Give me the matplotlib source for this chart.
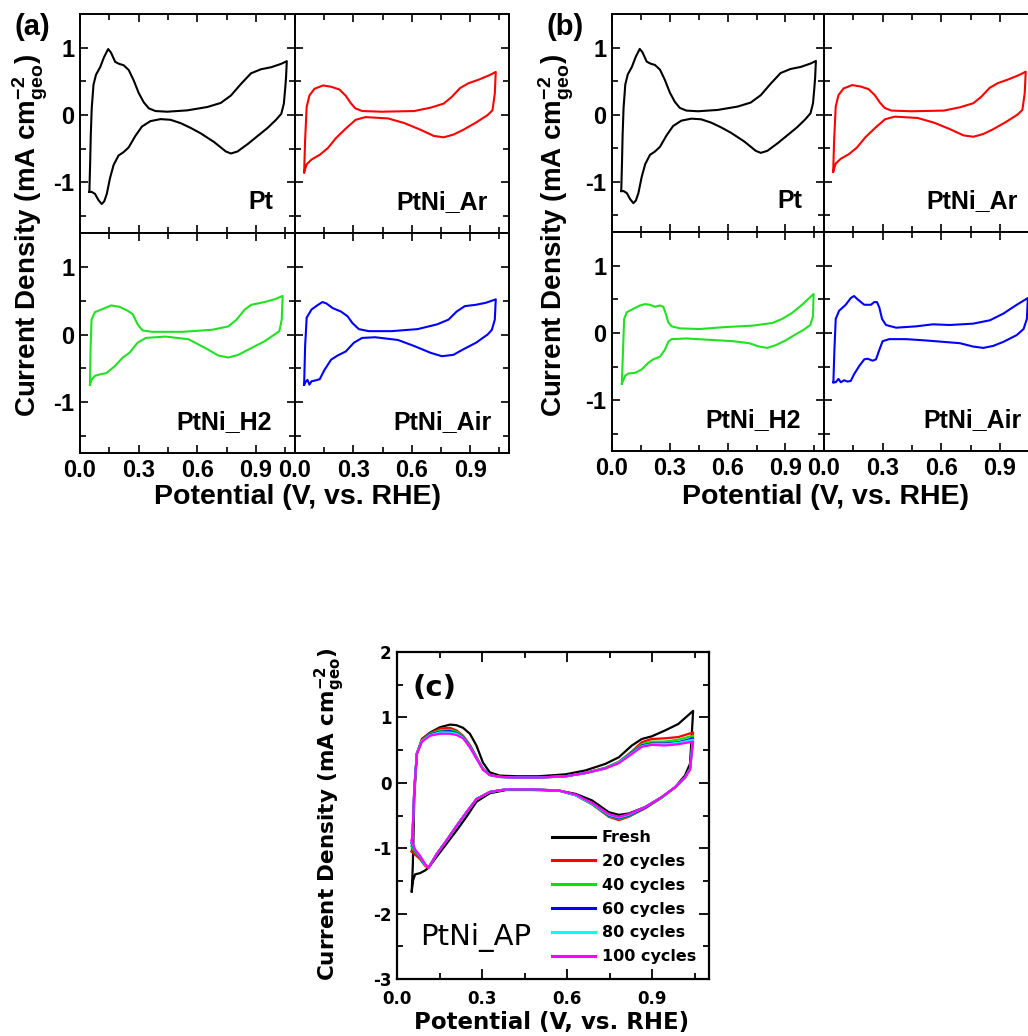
import matplotlib
matplotlib.use("Agg")
import matplotlib.pyplot as plt
from matplotlib.ticker import FixedLocator

plt.rcParams['mathtext.default'] = 'regular'

W, H = 1028, 1036

# ---------------- data (potential V vs RHE, current density mA cm-2) -------------
pt_v = [0.048, 0.052, 0.055, 0.060, 0.069, 0.082, 0.103, 0.123, 0.144, 0.158, 0.180, 0.200, 0.223,
        0.249, 0.274, 0.300, 0.326, 0.352, 0.386, 0.446, 0.549, 0.652, 0.720, 0.772, 0.823, 0.875,
        0.926, 0.978, 1.029, 1.058,
        1.054, 1.050, 1.043, 1.030, 1.003, 0.960, 0.909, 0.858, 0.806, 0.772, 0.746, 0.686, 0.617,
        0.566, 0.515, 0.463, 0.412, 0.360, 0.317, 0.283, 0.249, 0.223, 0.197, 0.172, 0.154, 0.137,
        0.124, 0.111, 0.094, 0.077, 0.060, 0.048]
pt_j = [-1.14, -0.70, -0.31, 0.10, 0.45, 0.60, 0.71, 0.86, 0.98, 0.93, 0.79, 0.76, 0.74,
        0.67, 0.52, 0.33, 0.19, 0.10, 0.06, 0.05, 0.07, 0.12, 0.18, 0.29, 0.46, 0.62,
        0.68, 0.71, 0.76, 0.80,
        0.55, 0.40, 0.17, 0.02, -0.07, -0.19, -0.31, -0.43, -0.54, -0.57, -0.54, -0.40, -0.27,
        -0.19, -0.12, -0.07, -0.06, -0.09, -0.17, -0.31, -0.48, -0.55, -0.60, -0.74, -0.93, -1.17,
        -1.28, -1.32, -1.26, -1.17, -1.14, -1.14]

ar_v = [0.047, 0.052, 0.060, 0.074, 0.100, 0.144, 0.186, 0.228, 0.260, 0.286, 0.310, 0.345, 0.446,
        0.613, 0.697, 0.764, 0.806, 0.848, 0.890, 0.948, 0.998, 1.032,
        1.027, 1.015, 0.990, 0.931, 0.864, 0.814, 0.764, 0.714, 0.647, 0.563, 0.479, 0.362, 0.312,
        0.261, 0.211, 0.169, 0.127, 0.085, 0.060, 0.047]
ar_j = [-0.85, -0.37, 0.12, 0.29, 0.39, 0.44, 0.42, 0.38, 0.29, 0.18, 0.10, 0.06, 0.05,
        0.06, 0.11, 0.17, 0.27, 0.40, 0.47, 0.53, 0.59, 0.64,
        0.32, 0.07, 0.00, -0.11, -0.22, -0.29, -0.33, -0.31, -0.22, -0.12, -0.05, -0.03, -0.07,
        -0.20, -0.34, -0.49, -0.59, -0.66, -0.73, -0.85]

h2a_v = [0.051, 0.054, 0.059, 0.076, 0.118, 0.160, 0.202, 0.245, 0.270, 0.295, 0.320, 0.371, 0.523,
         0.675, 0.759, 0.801, 0.843, 0.877, 0.944, 0.995, 1.037,
         1.032, 1.020, 0.995, 0.944, 0.877, 0.810, 0.759, 0.708, 0.641, 0.556, 0.438, 0.337, 0.295,
         0.253, 0.219, 0.177, 0.135, 0.101, 0.076, 0.059, 0.051]
h2a_j = [-0.74, -0.22, 0.22, 0.33, 0.38, 0.43, 0.41, 0.35, 0.30, 0.15, 0.06, 0.04, 0.04,
         0.07, 0.12, 0.22, 0.37, 0.44, 0.48, 0.52, 0.57,
         0.22, 0.05, 0.00, -0.10, -0.20, -0.30, -0.34, -0.31, -0.20, -0.07, -0.03, -0.05, -0.12,
         -0.27, -0.34, -0.47, -0.57, -0.59, -0.61, -0.67, -0.74]

aira_v = [0.047, 0.052, 0.060, 0.085, 0.119, 0.141, 0.161, 0.194, 0.236, 0.270, 0.295, 0.328, 0.379,
          0.496, 0.630, 0.730, 0.789, 0.831, 0.873, 0.931, 0.982, 1.032,
          1.027, 1.012, 0.990, 0.931, 0.864, 0.814, 0.755, 0.697, 0.613, 0.529, 0.412, 0.345, 0.303,
          0.261, 0.219, 0.186, 0.152, 0.127, 0.102, 0.085, 0.074, 0.064, 0.052, 0.047]
aira_j = [-0.74, -0.17, 0.25, 0.37, 0.44, 0.48, 0.46, 0.39, 0.34, 0.27, 0.17, 0.08, 0.05,
          0.05, 0.08, 0.15, 0.22, 0.34, 0.42, 0.44, 0.47, 0.52,
          0.22, 0.07, 0.00, -0.12, -0.22, -0.30, -0.32, -0.27, -0.17, -0.08, -0.04, -0.05, -0.12,
          -0.25, -0.31, -0.37, -0.52, -0.66, -0.68, -0.69, -0.74, -0.67, -0.71, -0.74]

h2b_v = [0.051, 0.057, 0.063, 0.077, 0.111, 0.146, 0.172, 0.197, 0.223, 0.249, 0.266, 0.280, 0.292,
         0.309, 0.352, 0.455, 0.592, 0.729, 0.832, 0.883, 0.935, 0.986, 1.046,
         1.043, 1.029, 0.995, 0.952, 0.900, 0.849, 0.806, 0.763, 0.712, 0.626, 0.506, 0.386, 0.309,
         0.292, 0.274, 0.249, 0.214, 0.189, 0.154, 0.120, 0.086, 0.069, 0.051]
h2b_j = [-0.75, -0.27, 0.21, 0.31, 0.36, 0.41, 0.43, 0.42, 0.39, 0.41, 0.39, 0.28, 0.16,
         0.10, 0.07, 0.06, 0.09, 0.11, 0.15, 0.21, 0.30, 0.42, 0.58,
         0.25, 0.12, 0.05, -0.02, -0.11, -0.18, -0.22, -0.20, -0.15, -0.12, -0.10, -0.08, -0.09,
         -0.13, -0.25, -0.35, -0.39, -0.44, -0.54, -0.59, -0.60, -0.63, -0.75]

airb_v = [0.048, 0.053, 0.060, 0.077, 0.111, 0.137, 0.154, 0.172, 0.206, 0.240, 0.257, 0.271, 0.283,
          0.297, 0.317, 0.369, 0.472, 0.557, 0.643, 0.763, 0.849, 0.918, 0.986, 1.043,
          1.038, 1.021, 0.986, 0.918, 0.866, 0.815, 0.763, 0.695, 0.609, 0.523, 0.420, 0.334, 0.300,
          0.283, 0.266, 0.249, 0.223, 0.206, 0.180, 0.154, 0.137, 0.120, 0.103, 0.086, 0.074, 0.060, 0.048]
airb_j = [-0.73, -0.27, 0.21, 0.33, 0.42, 0.52, 0.55, 0.50, 0.42, 0.42, 0.46, 0.46, 0.38,
          0.21, 0.12, 0.08, 0.10, 0.13, 0.12, 0.14, 0.19, 0.29, 0.42, 0.52,
          0.21, 0.06, -0.03, -0.13, -0.19, -0.22, -0.20, -0.15, -0.13, -0.11, -0.09, -0.09, -0.12,
          -0.25, -0.39, -0.41, -0.38, -0.39, -0.49, -0.61, -0.71, -0.72, -0.70, -0.73, -0.68, -0.73, -0.73]

# panel (c): durability cycles of PtNi_AP
c_v_an = [0.052, 0.054, 0.056, 0.061, 0.070, 0.088, 0.117, 0.152, 0.187, 0.210, 0.233, 0.257, 0.280, 0.303,
          0.327, 0.362, 0.420, 0.500, 0.595, 0.665, 0.735, 0.782, 0.828, 0.863, 0.898, 0.945, 0.992, 1.044]
c_v_cat = [1.044, 1.038, 1.033, 1.015, 0.980, 0.933, 0.875, 0.817, 0.782, 0.747, 0.688, 0.630, 0.572, 0.478,
           0.385, 0.327, 0.280, 0.245, 0.210, 0.175, 0.140, 0.111, 0.099, 0.082, 0.064, 0.056, 0.052]
fresh_an = [-1.66, -1.45, -1.23, -0.22, 0.44, 0.67, 0.77, 0.85, 0.89, 0.88, 0.84, 0.75, 0.57, 0.31,
            0.16, 0.11, 0.10, 0.10, 0.13, 0.19, 0.29, 0.39, 0.57, 0.67, 0.71, 0.80, 0.90, 1.10]
fresh_cat = [1.10, 0.64, 0.29, 0.11, -0.07, -0.22, -0.37, -0.47, -0.49, -0.45, -0.27, -0.17, -0.12, -0.11,
             -0.11, -0.16, -0.29, -0.52, -0.73, -0.93, -1.13, -1.30, -1.34, -1.38, -1.40, -1.50, -1.66]
c20_an = [-1.05, -0.95, -0.70, -0.10, 0.45, 0.66, 0.76, 0.83, 0.84, 0.80, 0.72, 0.58, 0.40, 0.22,
          0.12, 0.09, 0.08, 0.08, 0.10, 0.15, 0.23, 0.32, 0.48, 0.62, 0.67, 0.68, 0.70, 0.77]
c20_cat = [0.77, 0.45, 0.22, 0.08, -0.07, -0.23, -0.39, -0.52, -0.57, -0.52, -0.33, -0.19, -0.12, -0.10,
           -0.10, -0.14, -0.25, -0.45, -0.66, -0.88, -1.09, -1.30, -1.27, -1.17, -1.10, -1.07, -1.05]
c40_an = [-0.97, -0.90, -0.68, -0.10, 0.45, 0.65, 0.75, 0.80, 0.81, 0.78, 0.71, 0.57, 0.39, 0.21,
          0.12, 0.09, 0.08, 0.08, 0.10, 0.15, 0.23, 0.32, 0.47, 0.59, 0.63, 0.63, 0.66, 0.72]
c40_cat = [0.72, 0.43, 0.21, 0.08, -0.07, -0.23, -0.38, -0.51, -0.55, -0.51, -0.33, -0.19, -0.12, -0.10,
           -0.10, -0.14, -0.25, -0.45, -0.66, -0.88, -1.09, -1.30, -1.26, -1.15, -1.06, -1.01, -0.97]
c60_an = [-0.92, -0.86, -0.66, -0.10, 0.45, 0.64, 0.74, 0.78, 0.79, 0.76, 0.70, 0.56, 0.38, 0.21,
          0.12, 0.09, 0.08, 0.08, 0.10, 0.15, 0.22, 0.31, 0.46, 0.57, 0.60, 0.60, 0.62, 0.68]
c60_cat = [0.68, 0.42, 0.21, 0.08, -0.07, -0.22, -0.38, -0.50, -0.54, -0.50, -0.32, -0.19, -0.12, -0.10,
           -0.10, -0.14, -0.25, -0.45, -0.66, -0.88, -1.09, -1.30, -1.25, -1.14, -1.04, -0.97, -0.92]
c80_an = [-0.90, -0.85, -0.65, -0.10, 0.45, 0.64, 0.73, 0.77, 0.77, 0.75, 0.69, 0.55, 0.38, 0.21,
          0.12, 0.09, 0.08, 0.08, 0.10, 0.15, 0.22, 0.31, 0.45, 0.56, 0.59, 0.59, 0.61, 0.66]
c80_cat = [0.66, 0.41, 0.21, 0.08, -0.07, -0.22, -0.37, -0.49, -0.53, -0.49, -0.32, -0.19, -0.12, -0.10,
           -0.10, -0.14, -0.25, -0.45, -0.66, -0.88, -1.09, -1.30, -1.25, -1.13, -1.03, -0.95, -0.90]
c100_an = [-0.88, -0.83, -0.64, -0.10, 0.44, 0.63, 0.72, 0.75, 0.75, 0.73, 0.68, 0.54, 0.37, 0.20,
           0.12, 0.09, 0.08, 0.08, 0.10, 0.15, 0.22, 0.30, 0.44, 0.55, 0.58, 0.57, 0.59, 0.63]
c100_cat = [0.63, 0.40, 0.20, 0.08, -0.07, -0.22, -0.37, -0.48, -0.52, -0.48, -0.31, -0.18, -0.12, -0.10,
            -0.10, -0.14, -0.25, -0.45, -0.66, -0.88, -1.09, -1.30, -1.24, -1.12, -1.02, -0.93, -0.88]

c_labels = ['Fresh', '20 cycles', '40 cycles', '60 cycles', '80 cycles', '100 cycles']
c_colors = ['black', '#FF0000', '#00E600', '#0000FF', '#00FFFF', '#FF00FF']
c_an = [fresh_an, c20_an, c40_an, c60_an, c80_an, c100_an]
c_cat = [fresh_cat, c20_cat, c40_cat, c60_cat, c80_cat, c100_cat]

xticks_ab = [0.0, 0.3, 0.6, 0.9]
yticks_ab = [-1, 0, 1]
xticks_c = [0.0, 0.3, 0.6, 0.9]
yticks_c = [-3, -2, -1, 0, 1, 2]

# ---------------- figure -------------
fig = plt.figure(figsize=(W / 100, H / 100), dpi=100)
FB = 'Liberation Sans'


def box(x0, x1, ytop, ybot):
    return [x0 / W, 1 - ybot / H, (x1 - x0) / W, (ybot - ytop) / H]


def style_ab(ax, show_x, show_y):
    ax.set_xlim(0, 1.1)
    ax.set_ylim(-1.75, 1.5)
    ax.xaxis.set_major_locator(FixedLocator(xticks_ab))
    ax.xaxis.set_minor_locator(FixedLocator([0.15, 0.45, 0.75, 1.05]))
    ax.yaxis.set_major_locator(FixedLocator(yticks_ab))
    ax.yaxis.set_minor_locator(FixedLocator([-1.5, -0.5, 0.5]))
    ax.tick_params(which='both', direction='in', top=True, right=True, width=1.2,
                   labelbottom=show_x, labelleft=show_y, pad=4)
    ax.tick_params(which='major', length=6)
    ax.tick_params(which='minor', length=4)
    for s in ax.spines.values():
        s.set_linewidth(1.4)
    ax.set_xticklabels(['0.0', '0.3', '0.6', '0.9'])
    ax.set_yticklabels(['-1', '0', '1'])
    for lab in ax.get_xticklabels() + ax.get_yticklabels():
        lab.set_fontfamily(FB)
        lab.set_fontweight('bold')
        lab.set_fontsize(17)


def name(ax, txt, xr):
    ax.text(xr, 0.11, txt, transform=ax.transAxes, ha='right', va='baseline',
            fontsize=18, fontweight='bold', family=FB)


panel_sets = [
    (80, 295, 509, 14, 233, 453, h2a_v, h2a_j, aira_v, aira_j, '(a)', 15, 30, 297),
    (612, 824, 1039, 14, 232, 451, h2b_v, h2b_j, airb_v, airb_j, '(b)', 547, 556, 826),
]
lw = 1.5
for (x0, xm, x1, y0, ym, y1, h2v, h2j, airv, airj, tag, tagx, ylx, xlx) in panel_sets:
    a1 = fig.add_axes(box(x0, xm, y0, ym))
    a2 = fig.add_axes(box(xm, x1, y0, ym))
    a3 = fig.add_axes(box(x0, xm, ym, y1))
    a4 = fig.add_axes(box(xm, x1, ym, y1))
    a1.plot(pt_v, pt_j, color='black', lw=lw)
    a2.plot(ar_v, ar_j, color='#FF0000', lw=lw)
    a3.plot(h2v, h2j, color='#22E022', lw=lw)
    a4.plot(airv, airj, color='#0000FF', lw=lw)
    style_ab(a1, False, True)
    style_ab(a2, False, False)
    style_ab(a3, True, True)
    style_ab(a4, True, False)
    name(a1, 'Pt', 0.898)
    name(a2, 'PtNi_Ar', 0.90)
    name(a3, 'PtNi_H2', 0.893)
    name(a4, 'PtNi_Air', 0.92)
    fig.text(tagx / W, 1 - 27 / H, tag, ha='left', va='center', fontsize=21,
             fontweight='bold', family=FB)
    fig.text(ylx / W, 1 - 235 / H, r'Current Density (mA cm$^{-2}_{geo}$)', rotation=90,
             ha='center', va='center', fontsize=20, fontweight='bold', family=FB)
    fig.text(xlx / W, 1 - 497 / H, 'Potential (V, vs. RHE)', ha='center', va='center',
             fontsize=20.5, fontweight='bold', family=FB)

# ---------------- panel (c) -------------
FC = 'DejaVu Sans'
axc = fig.add_axes(box(397, 709, 652, 979))
for lab, col, ja, jc in zip(c_labels, c_colors, c_an, c_cat):
    axc.plot(c_v_an + c_v_cat, ja + jc, color=col, lw=1.6, label=lab)
axc.set_xlim(0, 1.1)
axc.set_ylim(-3, 2)
axc.xaxis.set_major_locator(FixedLocator(xticks_c))
axc.xaxis.set_minor_locator(FixedLocator([0.15, 0.45, 0.75, 1.05]))
axc.yaxis.set_major_locator(FixedLocator(yticks_c))
axc.yaxis.set_minor_locator(FixedLocator([-2.5, -1.5, -0.5, 0.5, 1.5]))
axc.tick_params(which='both', direction='in', top=True, right=True, width=1.3, pad=4)
axc.tick_params(axis='x', which='both', pad=8)
axc.tick_params(which='major', length=7)
axc.tick_params(which='minor', length=4)
for s in axc.spines.values():
    s.set_linewidth(1.6)
axc.set_xticklabels(['0.0', '0.3', '0.6', '0.9'])
axc.set_yticklabels([str(v) for v in yticks_c])
for lab in axc.get_xticklabels() + axc.get_yticklabels():
    lab.set_fontfamily(FC)
    lab.set_fontsize(12)
    lab.set_fontweight('bold')
leg = axc.legend(loc='upper left', bbox_to_anchor=(0.497, 0.455), frameon=False,
                 handlelength=2.7, handletextpad=0.4, labelspacing=0.55, borderpad=0,
                 borderaxespad=0, prop={'family': FC, 'size': 11.5, 'weight': 'bold'})
for ln in leg.get_lines():
    ln.set_linewidth(2.2)
axc.text(0.05, 0.89, '(c)', transform=axc.transAxes, ha='left', va='center',
         fontsize=21, fontweight='bold', family=FC)
axc.text(0.074, 0.104, 'PtNi_AP', transform=axc.transAxes, ha='left', va='baseline',
         fontsize=21, family=FC)
fig.text(330 / W, 1 - 814 / H, r'Current Density (mA cm$^{-2}_{geo}$)', rotation=90,
         ha='center', va='center', fontsize=15.5, fontweight='bold', family=FC)
fig.text(552 / W, 1 - 1022 / H, 'Potential (V, vs. RHE)', ha='center', va='center',
         fontsize=16.5, fontweight='bold', family=FC)

fig.savefig('out.png', dpi=100)
